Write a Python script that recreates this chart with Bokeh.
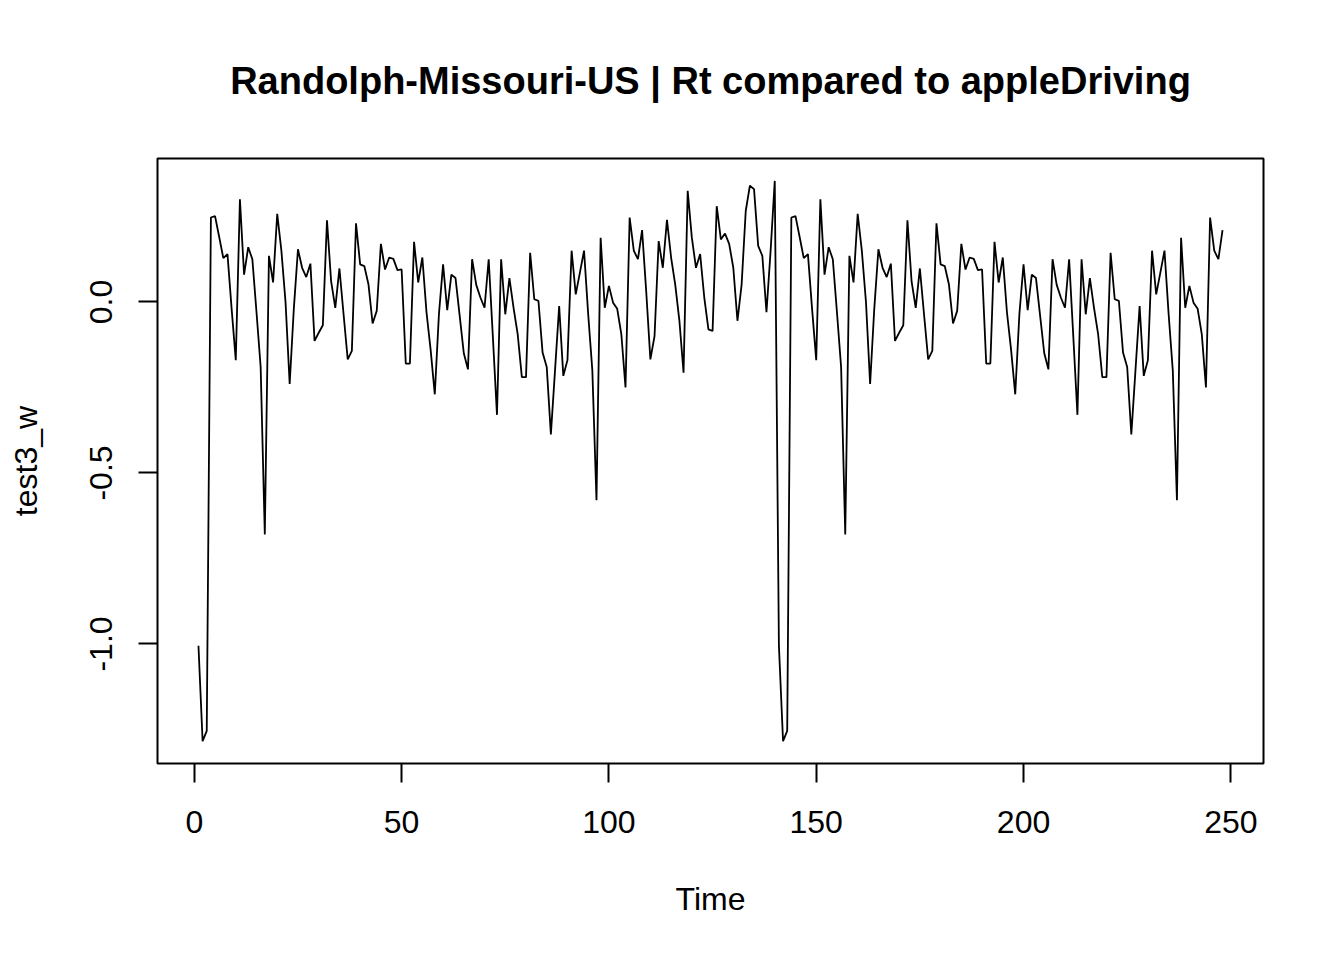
from bokeh.plotting import figure
from bokeh.models import Range1d, FixedTicker
from bokeh.embed import file_html
from bokeh.resources import INLINE

# series (R ts plot, index 1..248)
test3_w = [
    -1.005, -1.284, -1.254, 0.247, 0.251, 0.19, 0.128, 0.14, -0.02, -0.17,
    0.30, 0.08, 0.16, 0.125, -0.03, -0.19, -0.68, 0.135, 0.057, 0.258,
    0.15, 0.0, -0.24, -0.02, 0.154, 0.10, 0.073, 0.112, -0.114, -0.09,
    -0.068, 0.239, 0.06, -0.017, 0.098, -0.036, -0.168, -0.143, 0.23, 0.11,
    0.105, 0.052, -0.063, -0.026, 0.17, 0.095, 0.13, 0.126, 0.093, 0.095,
    -0.18, -0.18, 0.176, 0.057, 0.13, -0.03, -0.14, -0.27, -0.036, 0.11,
    -0.024, 0.08, 0.07, -0.04, -0.15, -0.197, 0.125, 0.05, 0.013, -0.017,
    0.125, -0.10, -0.33, 0.125, -0.036, 0.07, -0.017, -0.095, -0.22, -0.22,
    0.144, 0.008, 0.003, -0.148, -0.19, -0.387, -0.20, -0.012, -0.216, -0.17,
    0.15, 0.022, 0.086, 0.15, -0.036, -0.20, -0.58, 0.188, -0.017, 0.047,
    -0.002, -0.02, -0.095, -0.25, 0.247, 0.15, 0.125, 0.21, 0.03, -0.168,
    -0.10, 0.178, 0.10, 0.24, 0.13, 0.05, -0.055, -0.207, 0.325, 0.188,
    0.10, 0.14, 0.013, -0.08, -0.085, 0.28, 0.183, 0.20, 0.17, 0.10,
    -0.055, 0.05, 0.266, 0.34, 0.33, 0.164, 0.135, -0.03, 0.15, 0.354,
    -1.005, -1.284, -1.254, 0.247, 0.251, 0.19, 0.128, 0.14, -0.02, -0.17,
    0.30, 0.08, 0.16, 0.125, -0.03, -0.19, -0.68, 0.135, 0.057, 0.258,
    0.15, 0.0, -0.24, -0.02, 0.154, 0.10, 0.073, 0.112, -0.114, -0.09,
    -0.068, 0.239, 0.06, -0.017, 0.098, -0.036, -0.168, -0.143, 0.23, 0.11,
    0.105, 0.052, -0.063, -0.026, 0.17, 0.095, 0.13, 0.126, 0.093, 0.095,
    -0.18, -0.18, 0.176, 0.057, 0.13, -0.03, -0.14, -0.27, -0.036, 0.11,
    -0.024, 0.08, 0.07, -0.04, -0.15, -0.197, 0.125, 0.05, 0.013, -0.017,
    0.125, -0.10, -0.33, 0.125, -0.036, 0.07, -0.017, -0.095, -0.22, -0.22,
    0.144, 0.008, 0.003, -0.148, -0.19, -0.387, -0.20, -0.012, -0.216, -0.17,
    0.15, 0.022, 0.086, 0.15, -0.036, -0.20, -0.58, 0.188, -0.017, 0.047,
    -0.002, -0.02, -0.095, -0.25, 0.247, 0.15, 0.125, 0.21,
]
time = list(range(1, len(test3_w) + 1))

x_ticks = [0, 50, 100, 150, 200, 250]
y_ticks = [-1.0, -0.5, 0.0]
y_tick_labels = {-1.0: "-1.0", -0.5: "-0.5", 0.0: "0.0"}

FONT = "Liberation Sans"

# R pads the data range by 4% on each side
xpad = 0.04 * (time[-1] - time[0])
ypad = 0.04 * (max(test3_w) - min(test3_w))

p = figure(width=1344, height=960, output_backend="svg", toolbar_location=None,
           x_range=Range1d(time[0] - xpad, time[-1] + xpad),
           y_range=Range1d(min(test3_w) - ypad, max(test3_w) + ypad),
           min_border_left=157, min_border_right=81,
           min_border_top=157, min_border_bottom=197,
           title="Randolph-Missouri-US | Rt compared to appleDriving")

p.line(time, test3_w, line_color="black", line_width=1.8)

p.title.align = "center"
p.title.text_font = FONT
p.title.text_font_size = "38px"
p.title.text_font_style = "bold"
p.title.text_color = "black"
p.title.standoff = 114

p.outline_line_color = "black"
p.outline_line_width = 2
p.xgrid.visible = False
p.ygrid.visible = False
p.background_fill_color = "white"
p.border_fill_color = "white"

for ax in (p.xaxis[0], p.yaxis[0]):
    ax.axis_line_color = None
    ax.major_tick_out = 19
    ax.major_tick_in = 0
    ax.minor_tick_out = 0
    ax.minor_tick_in = 0
    ax.major_tick_line_color = "black"
    ax.major_tick_line_width = 2
    ax.major_label_text_font = FONT
    ax.major_label_text_font_size = "32px"
    ax.major_label_text_color = "black"
    ax.axis_label_text_font = FONT
    ax.axis_label_text_font_size = "32px"
    ax.axis_label_text_font_style = "normal"
    ax.axis_label_text_color = "black"

p.xaxis.ticker = FixedTicker(ticks=x_ticks)
p.xaxis.axis_label = "Time"
p.xaxis.major_label_standoff = 28
p.xaxis.axis_label_standoff = 45

p.yaxis.ticker = FixedTicker(ticks=y_ticks)
p.yaxis.major_label_overrides = y_tick_labels
p.yaxis.major_label_orientation = "vertical"
p.yaxis.axis_label = "test3_w"
p.yaxis.major_label_standoff = 26
p.yaxis.axis_label_standoff = 44

open("out.html", "w").write(file_html(p, INLINE))
